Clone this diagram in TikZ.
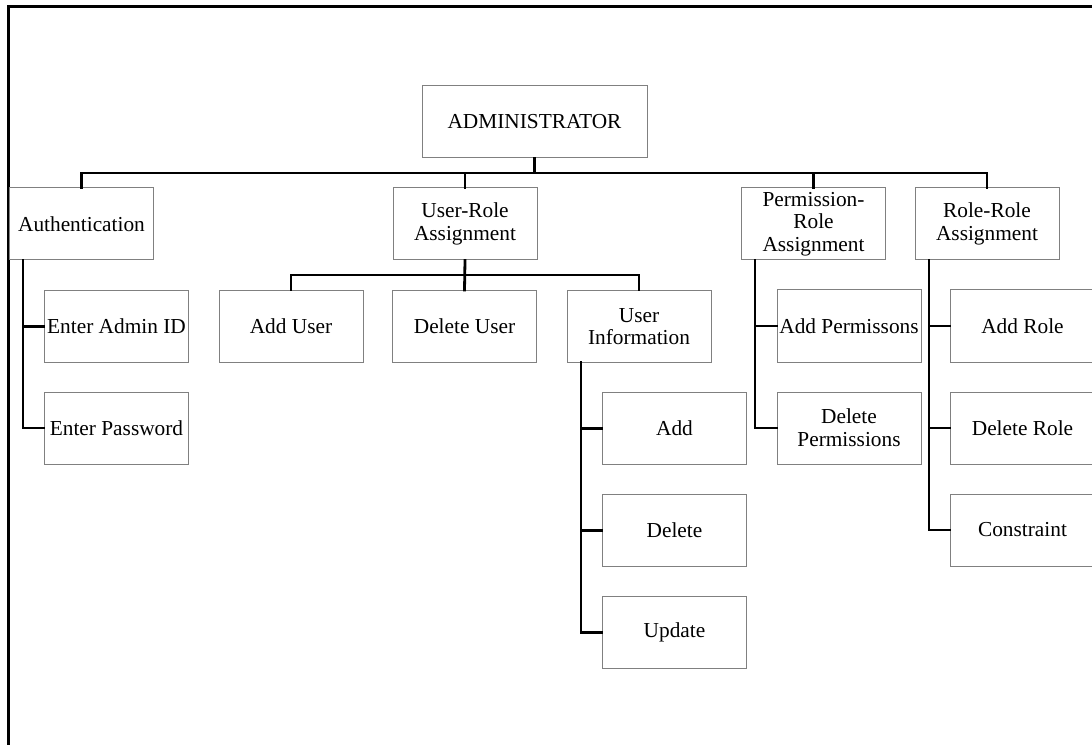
\documentclass[tikz,border=0pt]{standalone}
\usepackage{fontspec}
\setmainfont{Liberation Serif}
\tikzset{
  box/.style={draw=black!50, line width=0.75pt, rectangle,
    minimum width=108pt, minimum height=54pt, inner xsep=1pt, inner ysep=1pt,
    align=center, font=\fontsize{16}{17}\selectfont},
  link/.style={draw, line width=2.1pt, line cap=rect},
  frame/.style={draw, line width=1.7pt}
}

\begin{document}
\begin{tikzpicture}[x=0.75pt, y=-0.75pt]
  \useasboundingbox (0,0) rectangle (1092,745);
  \draw[frame] (8.5,745) |- (1092,6.5);

  \node[box, minimum width=168.75pt] (admin) at (534.5,122) {ADMINISTRATOR};

  \node[box] (auth) at (81.5,224) {Authentication};
  \node[box] (ura) at (465,224) {User-Role\\Assignment};
  \node[box] (pra) at (813.5,224) {Permission-\\Role\\Assignment};
  \node[box] (rra) at (987,224) {Role-Role\\Assignment};

  \node[box] (adminid) at (116.5,326.5) {Enter Admin ID};
  \node[box] (passwd) at (116.5,428) {Enter Password};

  \node[box] (adduser) at (291,326.5) {Add User};
  \node[box] (deluser) at (464.5,326.5) {Delete User};
  \node[box] (userinfo) at (639,326.5) {User\\Information};

  \node[box] (uiadd) at (674.5,428.5) {Add};
  \node[box] (uidel) at (674.5,530.5) {Delete};
  \node[box] (uiupd) at (674.5,632.5) {Update};

  \node[box] (addperm) at (849,326) {Add Permissons};
  \node[box] (delperm) at (849,428) {Delete\\Permissions};

  \node[box] (addrole) at (1022.5,326) {Add Role};
  \node[box] (delrole) at (1022.5,428) {Delete Role};
  \node[box] (constr) at (1022.5,530) {Constraint};

  \coordinate (bus) at (534.5,173);
  \coordinate (urabus) at (465,275);
  \coordinate (authrail) at (23,260);
  \coordinate (uirail) at (581,362.5);
  \coordinate (prarail) at (755,260);
  \coordinate (rrarail) at (929,260);

  \draw[link] (admin.south) -- (bus);
  \draw[link] (auth.north) |- (bus) -| (rra.north);
  \draw[link] (ura.north) -- (ura.north |- bus);
  \draw[link] (pra.north) -- (pra.north |- bus);

  \draw[link] (authrail) |- (adminid.west);
  \draw[link] (authrail) |- (passwd.west);

  \draw[link] (ura.south) -- (deluser.north);
  \draw[link] (adduser.north) |- (urabus) -| (userinfo.north);

  \draw[link] (uirail) |- (uiadd.west);
  \draw[link] (uirail) |- (uidel.west);
  \draw[link] (uirail) |- (uiupd.west);

  \draw[link] (prarail) |- (addperm.west);
  \draw[link] (prarail) |- (delperm.west);

  \draw[link] (rrarail) |- (addrole.west);
  \draw[link] (rrarail) |- (delrole.west);
  \draw[link] (rrarail) |- (constr.west);
\end{tikzpicture}
\end{document}
